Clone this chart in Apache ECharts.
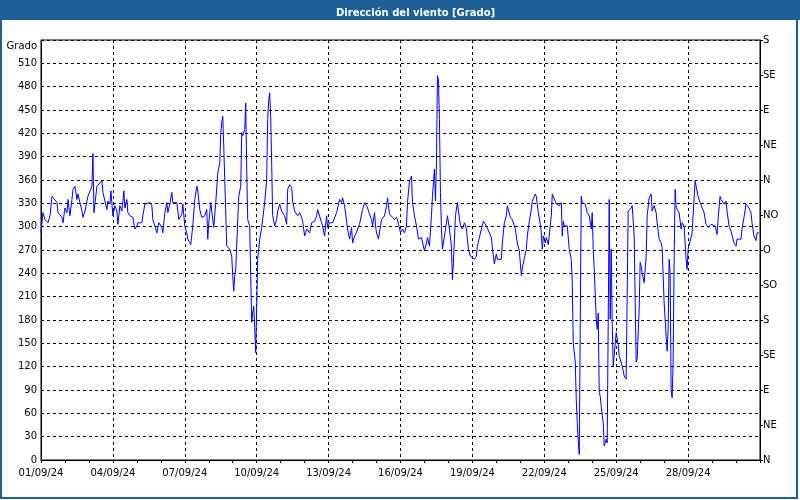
<!DOCTYPE html>
<html><head><meta charset="utf-8">
<script src="https://cdn.jsdelivr.net/npm/echarts@6/dist/echarts.min.js"></script>
<style>html,body{margin:0;padding:0;background:#fff}#c{width:800px;height:500px}</style>
</head><body><div id="c"></div>
<script>
// Hours since 01/09/24 00:00
const hours = [0,2,4,6,7,9,11,12,16,17,21,22,24,26,27,29,31,32,34,36,37,39,41,42,44,47,49,51,52,53,54,56,57,61,62,64,66,67,69,70,72,74,76,77,79,81,83,84,86,87,89,91,92,94,96,97,99,101,102,104,106,
109,111,112,115,116,118,121,122,124,126,127,129,131,132,134,136,138,141,142,144,146,147,150,152,154,156,157,159,161,164,166,167,168,170,172,173,175,177,179,180,181,182,183,185,186,189,191,192,193,194,195,197,198,200,201,202,204,205,206,207,209,210,211,212,213,214,215,216,217,218,219,221,222,224,226,227,228,229,230,231,232,
234,236,237,239,241,242,244,246,247,249,251,252,254,256,257,259,261,262,264,266,267,269,271,272,274,276,277,279,281,282,284,286,287,289,291,292,296,297,299,301,302,304,306,307,309,311,312,314,316,317,319,321,322,324,326,327,329,331,332,334,335,336,338,340,341,344,346,347,349,351,352,354,356,357,
360,362,364,366,367,369,371,372,374,376,378,381,383,384,386,387,389,391,392,393,394,395,396,397,398,399,400,401,402,404,406,407,409,411,412,413,415,417,418,420,422,424,426,428,430,432,434,436,437,441,443,446,448,451,452,454,456,457,461,462,464,466,467,470,472,475,477,479,
481,482,484,486,487,489,491,492,493,495,496,498,500,501,502,503,505,506,508,510,511,512,514,516,517,519,521,522,523,524,526,527,529,531,532,533,535,536,537,538,539,540,541,542,543,545,547,549,551,552,553,554,556,557,558,559,560,561,563,564,566,567,568,569,570,571,572,573,575,576,578,579,581,582,584,586,588,589,591,592,
594,596,597,599,600,601,602,604,605,606,607,609,611,612,614,616,617,619,621,622,624,626,627,628,629,630,631,632,633,634,635,636,637,639,641,642,644,646,647,648,650,652,653,655,657,658,660,662,664,666,668,671,673,675,677,678,680,681,682,684,686,687,689,691,694,696,697,701,702,704,706,707,709,711,712,714,716,717,719];
// Wind direction (degrees)
const dir = [292,318,309,307,305,314,339,339,331,318,312,305,324,318,335,314,335,348,352,335,342,342,320,312,320,339,339,352,394,318,318,352,352,359,344,342,322,333,329,346,314,327,320,303,327,320,346,324,335,318,314,312,312,297,301,305,303,305,314,329,331,
331,327,309,297,292,305,299,292,318,331,318,329,344,331,333,331,309,316,329,301,292,284,277,301,335,352,346,322,312,314,322,284,305,331,333,299,331,369,382,421,434,442,404,318,275,271,262,237,217,237,245,245,339,352,421,417,425,459,374,309,301,237,177,189,198,170,138,198,258,271,284,299,301,331,361,438,462,472,442,382,314,
301,309,320,329,320,318,314,303,348,354,350,333,320,320,314,318,312,307,288,297,299,292,305,306,307,314,322,320,305,301,288,314,299,305,307,305,318,320,335,331,337,327,307,297,284,299,279,288,292,297,303,316,322,331,327,324,316,309,301,318,301,292,284,301,309,314,327,337,316,314,312,309,312,309,
292,297,292,301,331,359,365,331,314,301,284,286,284,269,279,286,275,314,339,357,374,333,382,494,489,438,344,297,271,288,305,314,297,275,232,254,314,331,333,301,297,305,297,271,262,262,258,262,275,297,307,301,301,286,273,252,265,258,258,279,305,314,327,312,309,297,279,269,
237,247,247,271,288,307,322,333,331,342,339,318,303,292,271,288,279,286,277,275,314,342,342,329,327,327,331,288,307,301,303,301,271,258,228,151,126,78,48,24,7,177,339,331,329,329,318,314,297,318,271,245,181,168,189,87,82,69,48,18,27,22,177,335,181,271,177,121,121,164,148,134,132,121,108,104,320,318,324,327,
288,126,130,194,254,249,241,228,230,262,314,337,342,320,327,318,305,284,279,273,202,159,140,168,258,241,91,80,126,254,348,327,322,318,297,305,301,258,245,271,271,292,314,359,359,339,331,331,318,303,299,303,301,301,290,309,339,335,333,329,333,320,301,294,279,275,284,284,297,312,329,331,324,318,305,288,282,292,292];
// Right-axis compass labels (every 45°)
const compass = ['N','NE','E','SE','S','SO','O','NO','N','NE','E','SE','S'];
const titleText = 'Dirección del viento [Grado]';
const yName = 'Grado';

const FONT = '"DejaVu Sans", sans-serif';
const BLUE = '#1e5f97';
function dateLabel(h) {
  if (h >= 720) return '';
  const d = 1 + Math.round(h / 24);
  return (d < 10 ? '0' + d : '' + d) + '/09/24';
}
const chart = echarts.init(document.getElementById('c'), null, {renderer: 'canvas'});
chart.setOption({
  animation: false,
  backgroundColor: '#fff',
  title: {
    text: titleText, left: 331, top: 3, z: 10,
    textStyle: {color: '#fff', fontSize: 10, fontWeight: 'bold', fontFamily: FONT}
  },
  graphic: [
    {type: 'rect', z: 1, shape: {x: 0, y: 0, width: 800, height: 20}, style: {fill: BLUE}},
    {type: 'rect', z: 1, shape: {x: 1, y: 1, width: 796, height: 497}, style: {fill: null, stroke: BLUE, lineWidth: 2}},
    {type: 'text', z: 5, x: 37, y: 46, style: {text: yName, align: 'right', verticalAlign: 'middle', fill: '#000', font: '10px ' + FONT}}
  ],
  grid: {left: 41, right: 40, top: 40, bottom: 40, show: true, borderColor: '#000', borderWidth: 1, backgroundColor: 'transparent'},
  xAxis: {
    type: 'value', min: 0, max: 720, interval: 72,
    axisLine: {show: true, lineStyle: {color: '#000', width: 1}},
    axisTick: {show: true, length: 3, lineStyle: {color: '#000'}},
    minorTick: {show: true, splitNumber: 3, length: 3, lineStyle: {color: '#000'}},
    axisLabel: {formatter: dateLabel, color: '#000', fontFamily: FONT, fontSize: 10, margin: 8},
    splitLine: {show: true, lineStyle: {color: '#000', type: [3, 3], width: 1}},
    minorSplitLine: {show: false}
  },
  yAxis: [
    {
      type: 'value', min: 0, max: 540, interval: 30, position: 'left',
      axisLine: {show: true, lineStyle: {color: '#000'}},
      axisTick: {show: false},
      axisLabel: {formatter: v => v === 540 ? '' : String(v), color: '#000', fontFamily: FONT, fontSize: 10, margin: 4},
      splitLine: {show: true, lineStyle: {color: '#000', type: [3, 3], width: 1}}
    },
    {
      type: 'value', min: 0, max: 540, interval: 45, position: 'right',
      axisLine: {show: true, lineStyle: {color: '#000'}},
      axisTick: {show: true, length: 3, lineStyle: {color: '#000'}},
      axisLabel: {formatter: v => compass[Math.round(v / 45)], color: '#000', fontFamily: FONT, fontSize: 10, margin: 3},
      splitLine: {show: false}
    }
  ],
  series: [{
    type: 'line', yAxisIndex: 0,
    data: hours.map((h, i) => [h, dir[i]]),
    showSymbol: false, symbol: 'none', smooth: false,
    lineStyle: {color: '#0000ff', width: 1}, itemStyle: {color: '#0000ff'},
    z: 3
  }]
});
</script>
</body></html>
